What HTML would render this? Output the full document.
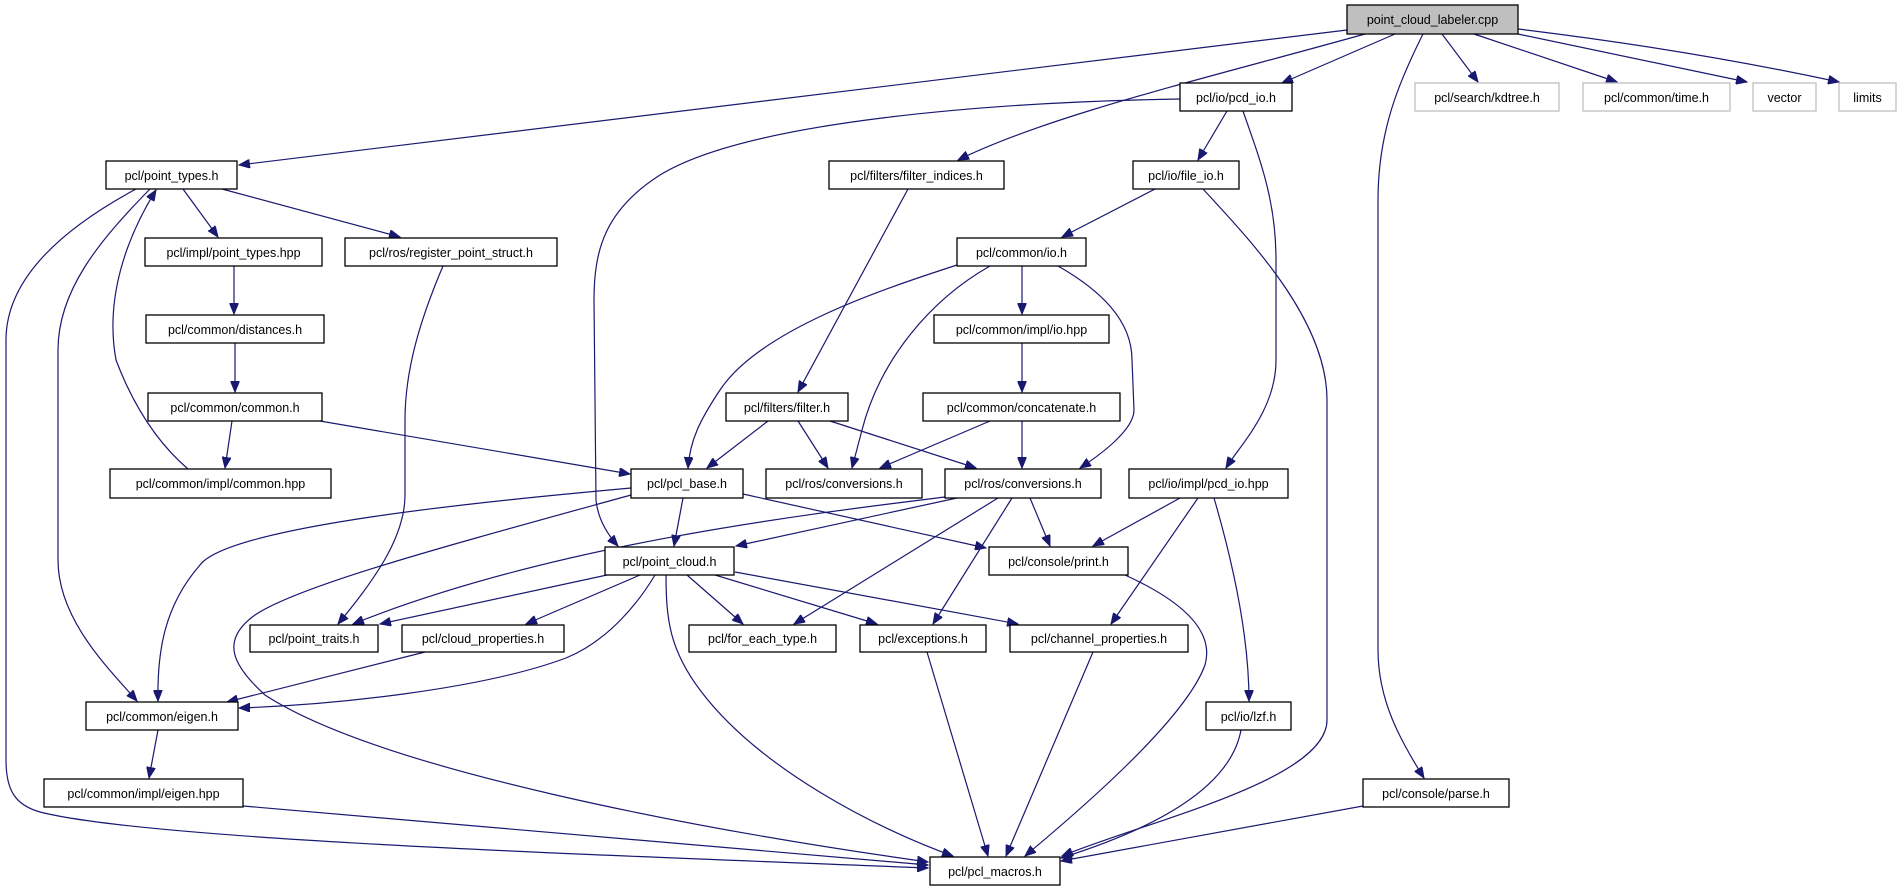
<!DOCTYPE html>
<html><head><meta charset="utf-8"><style>
html,body{margin:0;padding:0;background:#fff;}
svg{display:block;}
text{font-family:"Liberation Sans",sans-serif;font-size:12.5px;fill:#000;}
.n{fill:#fff;stroke:#000;stroke-width:1.3;}
.g{fill:#fff;stroke:#bfbfbf;stroke-width:1.3;}
.e{fill:none;stroke:#191970;stroke-width:1.2;}
</style></head><body>
<svg width="1901" height="891" viewBox="0 0 1901 891" xmlns="http://www.w3.org/2000/svg">
<defs><marker id="a" markerWidth="12" markerHeight="9" refX="11" refY="4.5" orient="auto" markerUnits="userSpaceOnUse"><path d="M0,0 L11,4.5 L0,9 Z" fill="#191970" stroke="#191970"/></marker></defs>
<g class="e" marker-end="url(#a)">
<path d="M1347,30 L239,165"/>
<path d="M1365,34 C1200,80 1050,115 958,160"/>
<path d="M1395,34 L1282,83"/>
<path d="M1423,34 C1400,80 1378,130 1378,200 L1378,650 C1378,700 1400,740 1424,778"/>
<path d="M1442,34 L1478,82"/>
<path d="M1474,34 L1617,82"/>
<path d="M1518,34 L1747,82"/>
<path d="M1518,29 C1650,45 1760,65 1839,82"/>
<path d="M1180,99 C1000,102 750,120 660,175 C605,210 594,250 594,300 L596,500 C598,520 608,535 618,546"/>
<path d="M1227,111 L1198,160"/>
<path d="M1243,111 C1260,160 1276,200 1276,260 L1276,360 C1276,410 1240,445 1226,468"/>
<path d="M1155,189 L1062,237"/>
<path d="M1203,189 C1250,240 1327,320 1327,400 L1327,720 C1327,780 1150,820 1062,856"/>
<path d="M908,189 L798,392"/>
<path d="M957,265 C880,290 760,330 720,390 C700,420 690,440 688,468"/>
<path d="M990,266 C930,300 880,360 862,430 L852,468"/>
<path d="M1022,266 L1022,314"/>
<path d="M1058,266 C1100,290 1132,320 1132,360 L1134,410 C1134,430 1100,455 1080,468"/>
<path d="M1022,343 L1022,392"/>
<path d="M990,421 L880,468"/>
<path d="M1022,421 L1022,468"/>
<path d="M768,421 L707,468"/>
<path d="M798,421 L828,468"/>
<path d="M830,421 L976,468"/>
<path d="M183,189 L218,237"/>
<path d="M222,189 L400,237"/>
<path d="M136,189 C60,230 6,280 6,340 L6,760 C6,790 15,805 40,812 C150,840 600,855 928,868"/>
<path d="M150,189 C100,240 58,290 58,350 L58,560 C58,620 110,670 137,701"/>
<path d="M188,469 C160,445 135,410 116,360 C105,300 125,240 156,190"/>
<path d="M234,266 L234,314"/>
<path d="M235,343 L235,392"/>
<path d="M232,421 L225,468"/>
<path d="M320,421 L630,474"/>
<path d="M443,266 C420,320 405,370 405,420 L405,495 C405,540 370,585 338,624"/>
<path d="M683,498 L674,546"/>
<path d="M743,494 L986,548"/>
<path d="M631,488 C500,500 230,525 200,565 C165,605 157,650 158,701"/>
<path d="M631,495 C450,545 300,585 255,615 C220,640 232,665 265,695 C380,770 700,830 928,862"/>
<path d="M945,497 C800,515 550,545 353,624"/>
<path d="M957,498 L736,546"/>
<path d="M998,498 L794,624"/>
<path d="M1012,498 L933,624"/>
<path d="M1030,498 L1050,546"/>
<path d="M1180,498 L1093,546"/>
<path d="M1198,498 L1111,624"/>
<path d="M1214,498 C1235,570 1249,640 1249,701"/>
<path d="M607,575 L380,624"/>
<path d="M640,575 L526,624"/>
<path d="M655,575 C640,600 610,640 566,658 C480,690 330,705 239,708"/>
<path d="M666,575 C666,620 670,650 700,690 C760,770 880,830 953,856"/>
<path d="M687,575 L743,624"/>
<path d="M715,575 L877,624"/>
<path d="M735,572 L1018,624"/>
<path d="M1125,575 C1180,600 1215,630 1205,665 C1185,720 1080,810 1025,856"/>
<path d="M927,652 L988,856"/>
<path d="M1093,652 L1006,856"/>
<path d="M1241,730 C1230,790 1150,830 1061,858"/>
<path d="M1363,806 L1061,861"/>
<path d="M425,652 L227,702"/>
<path d="M158,730 L149,778"/>
<path d="M243,806 L928,865"/>
</g>
<g>
<rect x="1347" y="5" width="171" height="29" fill="#bfbfbf" stroke="#000" stroke-width="1.3"/><text x="1432.5" y="24" text-anchor="middle">point_cloud_labeler.cpp</text>
<rect class="g" x="1415" y="83" width="144" height="28"/><text x="1487" y="102" text-anchor="middle">pcl/search/kdtree.h</text>
<rect class="g" x="1583" y="83" width="147" height="28"/><text x="1656.5" y="102" text-anchor="middle">pcl/common/time.h</text>
<rect class="g" x="1753" y="83" width="63" height="28"/><text x="1784.5" y="102" text-anchor="middle">vector</text>
<rect class="g" x="1839" y="83" width="57" height="28"/><text x="1867.5" y="102" text-anchor="middle">limits</text>
<rect class="n" x="1180" y="83" width="112" height="28"/><text x="1236" y="102" text-anchor="middle">pcl/io/pcd_io.h</text>
<rect class="n" x="106" y="161" width="131" height="28"/><text x="171.5" y="180" text-anchor="middle">pcl/point_types.h</text>
<rect class="n" x="829" y="161" width="175" height="28"/><text x="916.5" y="180" text-anchor="middle">pcl/filters/filter_indices.h</text>
<rect class="n" x="1133" y="161" width="106" height="28"/><text x="1186" y="180" text-anchor="middle">pcl/io/file_io.h</text>
<rect class="n" x="145" y="238" width="177" height="28"/><text x="233.5" y="257" text-anchor="middle">pcl/impl/point_types.hpp</text>
<rect class="n" x="345" y="238" width="212" height="28"/><text x="451" y="257" text-anchor="middle">pcl/ros/register_point_struct.h</text>
<rect class="n" x="957" y="238" width="129" height="28"/><text x="1021.5" y="257" text-anchor="middle">pcl/common/io.h</text>
<rect class="n" x="146" y="315" width="178" height="28"/><text x="235" y="334" text-anchor="middle">pcl/common/distances.h</text>
<rect class="n" x="934" y="315" width="175" height="28"/><text x="1021.5" y="334" text-anchor="middle">pcl/common/impl/io.hpp</text>
<rect class="n" x="148" y="393" width="174" height="28"/><text x="235" y="412" text-anchor="middle">pcl/common/common.h</text>
<rect class="n" x="726" y="393" width="122" height="28"/><text x="787" y="412" text-anchor="middle">pcl/filters/filter.h</text>
<rect class="n" x="923" y="393" width="197" height="28"/><text x="1021.5" y="412" text-anchor="middle">pcl/common/concatenate.h</text>
<rect class="n" x="110" y="469" width="221" height="29"/><text x="220.5" y="488" text-anchor="middle">pcl/common/impl/common.hpp</text>
<rect class="n" x="631" y="469" width="112" height="29"/><text x="687" y="488" text-anchor="middle">pcl/pcl_base.h</text>
<rect class="n" x="766" y="469" width="156" height="29"/><text x="844" y="488" text-anchor="middle">pcl/ros/conversions.h</text>
<rect class="n" x="945" y="469" width="156" height="29"/><text x="1023" y="488" text-anchor="middle">pcl/ros/conversions.h</text>
<rect class="n" x="1129" y="469" width="159" height="29"/><text x="1208.5" y="488" text-anchor="middle">pcl/io/impl/pcd_io.hpp</text>
<rect class="n" x="605" y="547" width="129" height="28"/><text x="669.5" y="566" text-anchor="middle">pcl/point_cloud.h</text>
<rect class="n" x="989" y="547" width="139" height="28"/><text x="1058.5" y="566" text-anchor="middle">pcl/console/print.h</text>
<rect class="n" x="250" y="625" width="128" height="27"/><text x="314" y="643" text-anchor="middle">pcl/point_traits.h</text>
<rect class="n" x="402" y="625" width="162" height="27"/><text x="483" y="643" text-anchor="middle">pcl/cloud_properties.h</text>
<rect class="n" x="689" y="625" width="147" height="27"/><text x="762.5" y="643" text-anchor="middle">pcl/for_each_type.h</text>
<rect class="n" x="860" y="625" width="126" height="27"/><text x="923" y="643" text-anchor="middle">pcl/exceptions.h</text>
<rect class="n" x="1010" y="625" width="178" height="27"/><text x="1099" y="643" text-anchor="middle">pcl/channel_properties.h</text>
<rect class="n" x="86" y="702" width="152" height="28"/><text x="162" y="721" text-anchor="middle">pcl/common/eigen.h</text>
<rect class="n" x="1206" y="702" width="85" height="28"/><text x="1248.5" y="721" text-anchor="middle">pcl/io/lzf.h</text>
<rect class="n" x="44" y="779" width="199" height="28"/><text x="143.5" y="798" text-anchor="middle">pcl/common/impl/eigen.hpp</text>
<rect class="n" x="1363" y="779" width="146" height="28"/><text x="1436" y="798" text-anchor="middle">pcl/console/parse.h</text>
<rect class="n" x="930" y="857" width="130" height="28"/><text x="995" y="876" text-anchor="middle">pcl/pcl_macros.h</text>
</g>
</svg>
</body></html>
